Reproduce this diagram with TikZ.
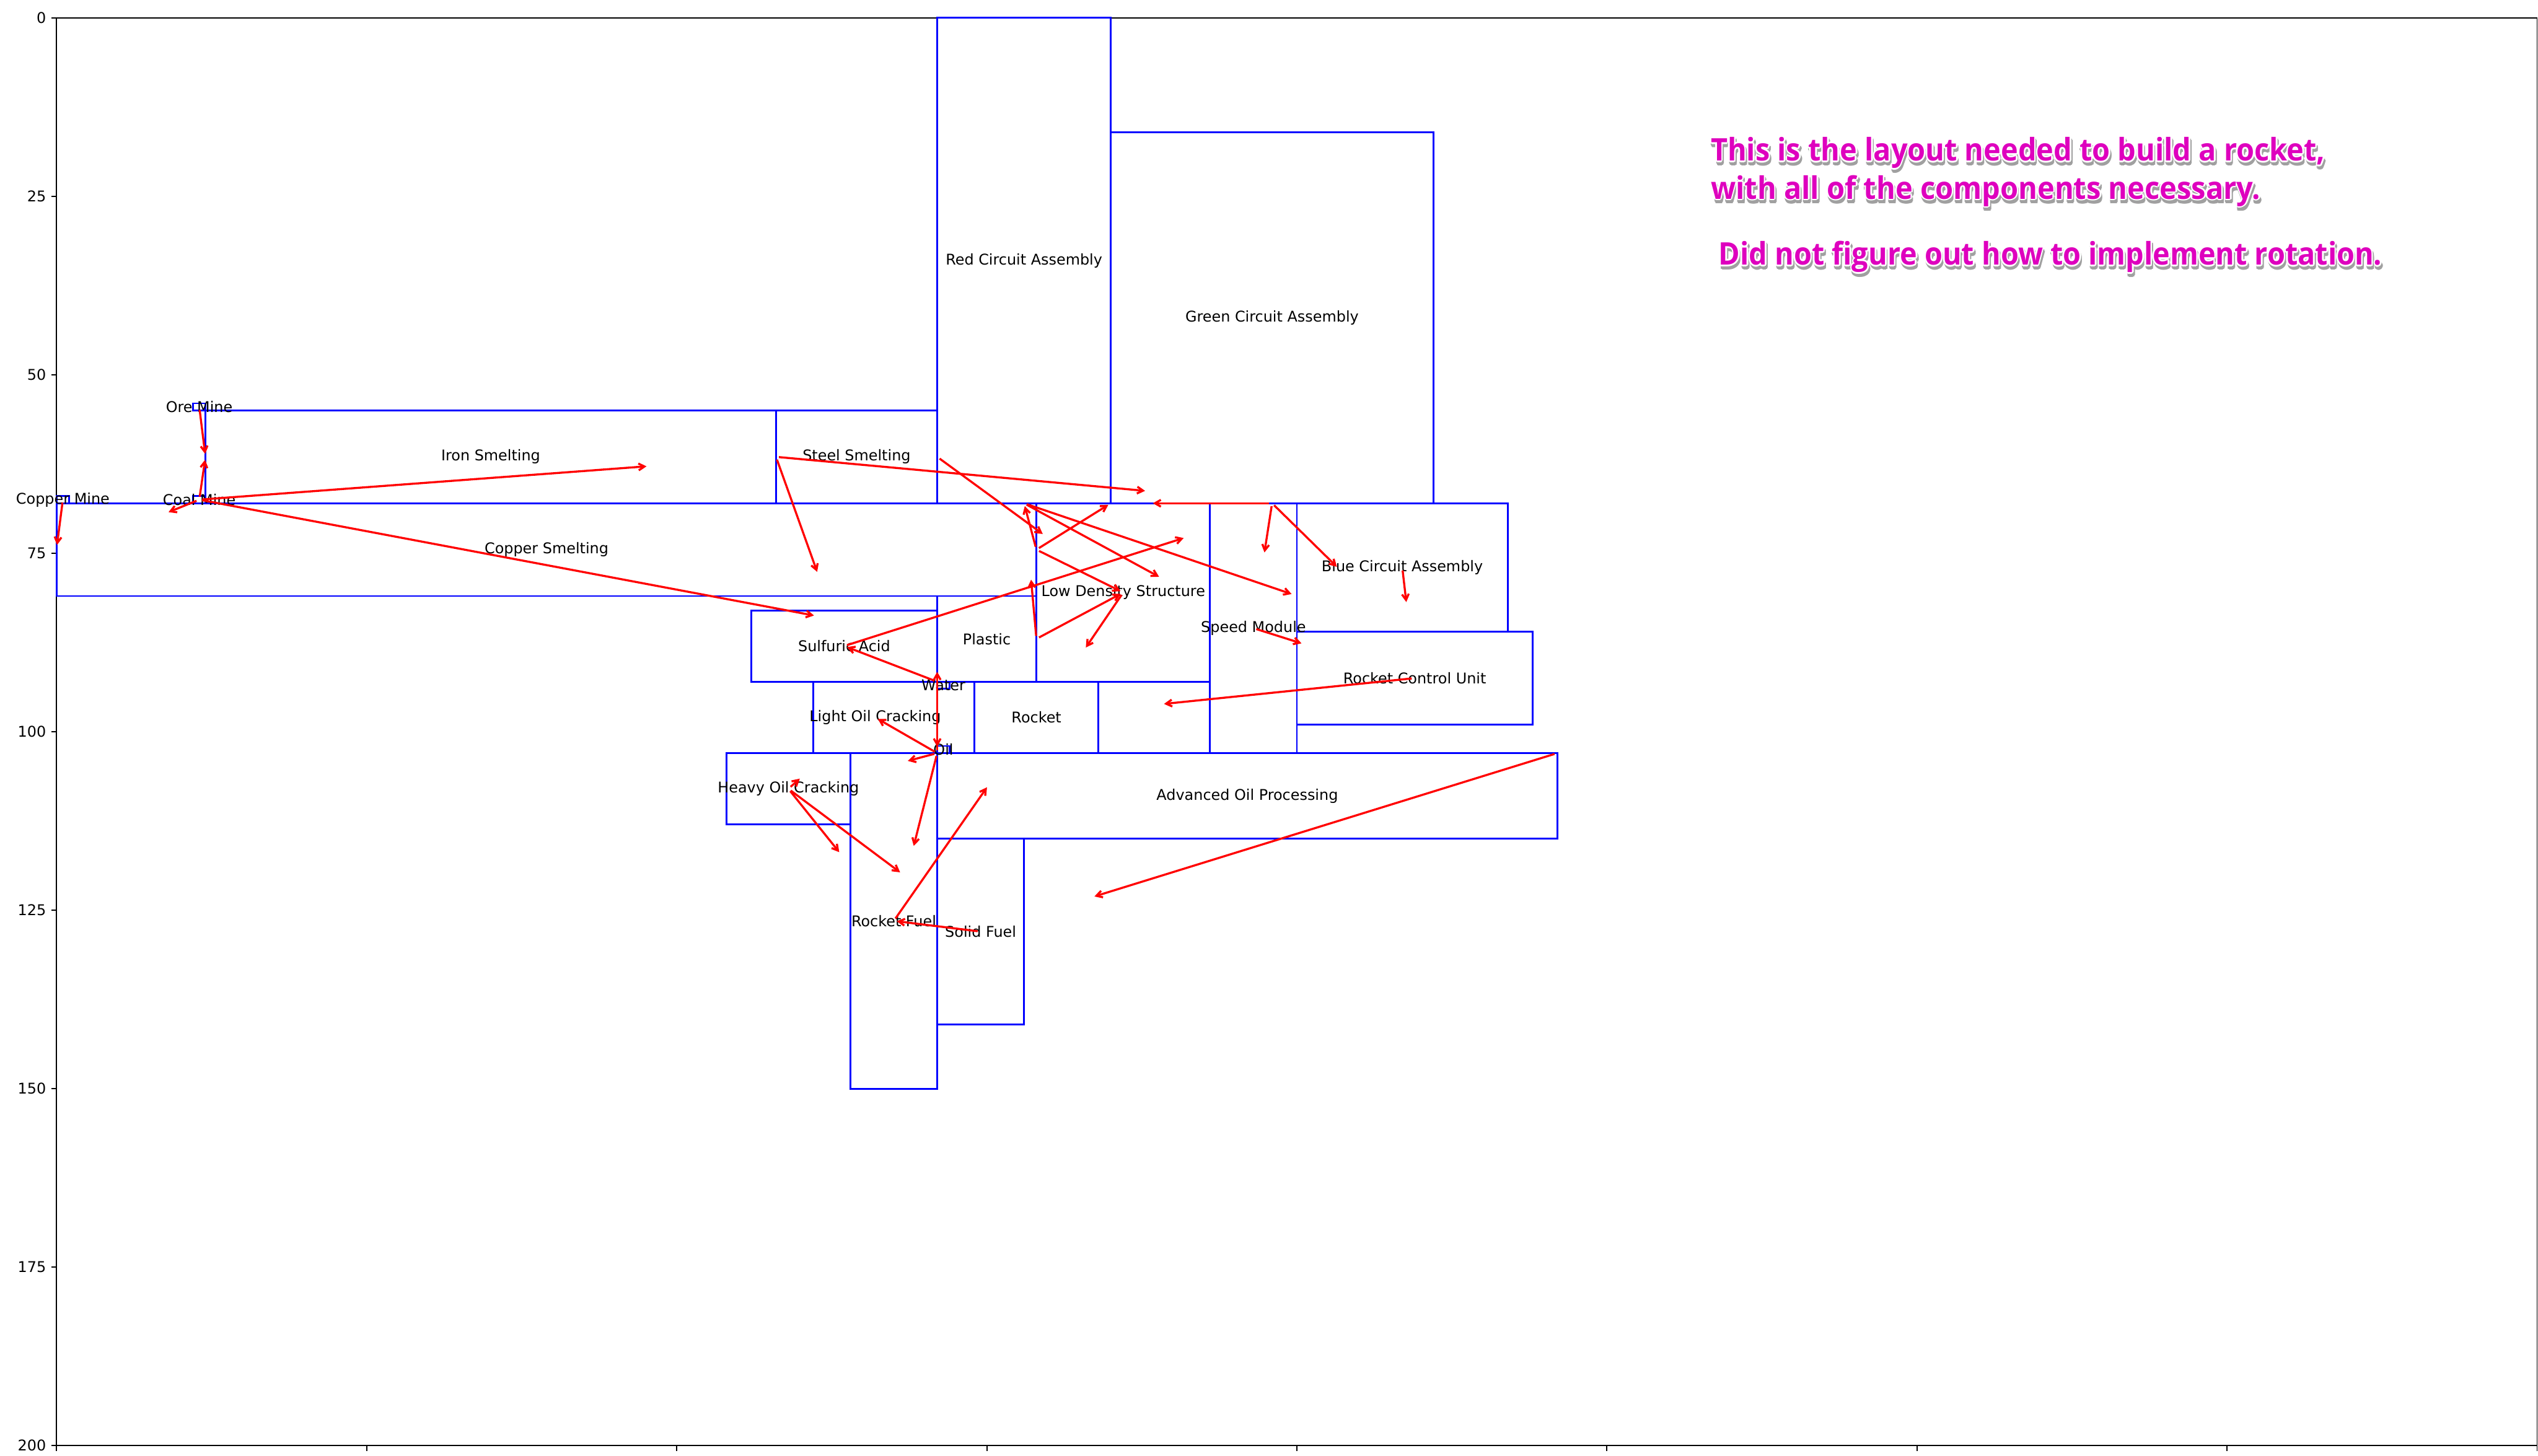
\documentclass[tikz,border=0pt]{standalone}
\usepackage{fontspec}
\usepackage{graphicx}
\setmainfont{DejaVu Sans}
\newfontfamily\annotfont{Open Sans}
\usetikzlibrary{arrows.meta}
\definecolor{mpblue}{RGB}{0,0,255}
\definecolor{mpred}{RGB}{255,0,0}
\definecolor{annot}{RGB}{222,0,190}
\definecolor{shade}{RGB}{160,160,160}
\newcommand\annotline[2]{\resizebox{#1}{\height}{\annotfont\bfseries\fontsize{21bp}{25bp}\selectfont #2}}
\begin{document}
\begin{tikzpicture}[
  bld/.style={draw=mpblue, line width=1.2bp},
  lbl/.style={font=\fontsize{10bp}{12bp}\selectfont, inner sep=0pt, text=black},
  flow/.style={draw=mpred, line width=1.4bp, -{Straight Barb[length=4bp,width=4.6bp]}, shorten <=2bp, shorten >=2bp},
  spine/.style={draw=black, line width=0.8bp},
  tick/.style={draw=black, line width=0.8bp},
  note/.style={anchor=base west, inner sep=0pt},
]
\path[use as bounding box] (0,0) rectangle (1713.6bp,-982.8bp);
\begin{scope}[shift={(38.25bp,-12.02bp)}, x={(8.3736bp,0)}, y={(0,-4.8204bp)}]
% axes
\draw[spine] (0,0) rectangle (200,200);
\foreach \v in {0,25,...,200} {
  \draw[tick] (0,\v) -- ++(-3.5bp,0);
  \node[lbl, anchor=east, xshift=-7bp] (yt\v) at (0,\v) {\v};
  \draw[tick] (\v,200) -- ++(0,-3.5bp);
}
% buildings
\draw[bld] (71,0) rectangle (85,68);
\draw[bld] (85,16) rectangle (111,68);
\draw[bld] (12,55) rectangle (58,68);
\draw[bld] (58,55) rectangle (71,68);
\draw[bld] (0,68) rectangle (79,81);
\draw[bld] (56,83) rectangle (71,93);
\draw[bld] (71,81) rectangle (79,93);
\draw[bld] (79,68) rectangle (93,93);
\draw[bld] (93,68) rectangle (100,103);
\draw[bld] (100,68) rectangle (117,86);
\draw[bld] (100,86) rectangle (119,99);
\draw[bld] (61,93) rectangle (71,103);
\draw[bld] (74,93) rectangle (84,103);
\draw[bld] (54,103) rectangle (64,113);
\draw[bld] (64,103) rectangle (71,150);
\draw[bld] (71,115) rectangle (78,141);
\draw[bld] (71,103) rectangle (121,115);
\draw[bld] (11,54) rectangle (12,55);
\draw[bld] (11,67) rectangle (12,68);
\draw[bld] (0,67) rectangle (1,68);
\draw[bld] (71,93) rectangle (72,94);
\draw[bld] (71,102) rectangle (72,103);
% labels
\node[lbl] (red) at (78,34) {Red Circuit Assembly};
\node[lbl] (green) at (98,42) {Green Circuit Assembly};
\node[lbl] (iron) at (35,61.5) {Iron Smelting};
\node[lbl] (steel) at (64.5,61.5) {Steel Smelting};
\node[lbl] (copper) at (39.5,74.5) {Copper Smelting};
\node[lbl] (sulf) at (63.5,88) {Sulfuric Acid};
\node[lbl] (plastic) at (75,87) {Plastic};
\node[lbl] (lds) at (86,80.5) {Low Density Structure};
\node[lbl] (speed) at (96.5,85.5) {Speed Module};
\node[lbl] (blue) at (108.5,77) {Blue Circuit Assembly};
\node[lbl] (rcu) at (109.5,92.5) {Rocket Control Unit};
\node[lbl] (loc) at (66,98) {Light Oil Cracking};
\node[lbl] (rocket) at (79,98) {Rocket};
\node[lbl] (hoc) at (59,108) {Heavy Oil Cracking};
\node[lbl] (rfuel) at (67.5,126.5) {Rocket Fuel};
\node[lbl] (sfuel) at (74.5,128) {Solid Fuel};
\node[lbl] (aop) at (96,109) {Advanced Oil Processing};
\node[lbl] (ore) at (11.5,54.5) {Ore Mine};
\node[lbl] (coal) at (11.5,67.5) {Coal Mine};
\node[lbl] (cmine) at (0.5,67.5) {Copper Mine};
\node[lbl] (water) at (71.5,93.5) {Water};
\node[lbl] (oil) at (71.5,102.5) {Oil};
% flow points
\coordinate (isIn) at (12,61.5);
\coordinate (isOut) at (58,61.5);
\coordinate (csIn) at (0,74.25);
\coordinate (csOut) at (79,74.5);
\coordinate (rcOut) at (78,68);
\coordinate (ssOut) at (71,61.5);
\coordinate (plOut) at (79,87);
\coordinate (wOut) at (71,93);
\coordinate (oOut) at (71,103);
\coordinate (aopOut) at (121,103);
\coordinate (smOut) at (98,68);
\coordinate (e3) at (47.8,62.8);
\coordinate (e4) at (8.8,69.4);
\coordinate (e5) at (61.3,83.8);
\coordinate (e7) at (88,66.3);
\coordinate (e8) at (61.4,78.0);
\coordinate (e9) at (79.7,72.55);
\coordinate (e11) at (85,68);
\coordinate (e13) at (89.1,78.5);
\coordinate (e14) at (99.8,80.85);
\coordinate (e15) at (91.1,72.75);
\coordinate (e18) at (68.4,104.2);
\coordinate (e19) at (69.05,116.4);
\coordinate (e20) at (75.15,107.45);
\coordinate (e22) at (60.1,106.3);
\coordinate (e23) at (63.25,117.2);
\coordinate (e24) at (68.2,119.95);
\coordinate (e25) at (83.45,123.2);
\coordinate (e26) at (89.05,96.15);
\coordinate (e27) at (100.6,87.75);
\coordinate (e28) at (108.85,82.25);
\coordinate (e29) at (88.15,68);
\coordinate (e30) at (97.35,75.3);
\coordinate (e31) at (103.4,77.2);
\coordinate (e32) at (78.55,78.3);
\coordinate (e34) at (82.85,88.55);
\coordinate (e35) at (71,91.2);
\coordinate (e36) at (71,102.5);
% flows
\draw[flow] (ore.center) -- (isIn);
\draw[flow] (coal.center) -- (isIn);
\draw[flow] (coal.center) -- (e3);
\draw[flow] (coal.center) -- (e4);
\draw[flow] (coal.center) -- (e5);
\draw[flow] (cmine.center) -- (csIn);
\draw[flow] (isOut) -- (e7);
\draw[flow] (isOut) -- (e8);
\draw[flow] (ssOut) -- (e9);
\draw[flow] (csOut) -- (rcOut);
\draw[flow] (csOut) -- (e11);
\draw[flow] (csOut) -- (lds.center);
\draw[flow] (rcOut) -- (e13);
\draw[flow] (rcOut) -- (e14);
\draw[flow] (sulf.center) -- (e15);
\draw[flow] (wOut) -- (sulf.center);
\draw[flow] (oOut) -- (loc.center);
\draw[flow] (oOut) -- (e18);
\draw[flow] (oOut) -- (e19);
\draw[flow] (oOut) -- (e35);
\draw[flow] (wOut) -- (e36);
\draw[flow] (rfuel.center) -- (e20);
\draw[flow] (sfuel.center) -- (rfuel.center);
\draw[flow] (hoc.center) -- (e22);
\draw[flow] (hoc.center) -- (e23);
\draw[flow] (hoc.center) -- (e24);
\draw[flow] (aopOut) -- (e25);
\draw[flow] (rcu.center) -- (e26);
\draw[flow] (speed.center) -- (e27);
\draw[flow] (blue.center) -- (e28);
\draw[flow] (smOut) -- (e29);
\draw[flow] (smOut) -- (e30);
\draw[flow] (smOut) -- (e31);
\draw[flow] (plOut) -- (e32);
\draw[flow] (plOut) -- (lds.center);
\draw[flow] (lds.center) -- (e34);
\end{scope}
% annotation text
\coordinate (n1) at (1154.9bp,-108.6bp);
\coordinate (n2) at (1154.9bp,-134.3bp);
\coordinate (n3) at (1160.3bp,-178.9bp);
\foreach \p/\w/\t [count=\i] in {n1/414.7bp/{This is the layout needed to build a rocket,}, n2/371.2bp/{with all of the components necessary.}, n3/447.8bp/{Did not figure out how to implement rotation.}} {
  \foreach \dx/\dy [count=\j] in {1.1/0,-1.1/0,0/1.1,0/-1.1,0.8/0.8,-0.8/0.8,0.8/-0.8,-0.8/-0.8} {
    \node[note, text=shade, xshift=\dx bp+0.8bp, yshift=\dy bp-2.2bp] (sh\i-\j) at (\p) {\annotline{\w}{\t}};
  }
  \foreach \dx/\dy [count=\j] in {1.1/0,-1.1/0,0/1.1,0/-1.1,0.8/0.8,-0.8/0.8,0.8/-0.8,-0.8/-0.8} {
    \node[note, text=white, xshift=\dx bp, yshift=\dy bp] (wh\i-\j) at (\p) {\annotline{\w}{\t}};
  }
  \node[note, text=annot] (tx\i) at (\p) {\annotline{\w}{\t}};
}
\end{tikzpicture}
\end{document}
